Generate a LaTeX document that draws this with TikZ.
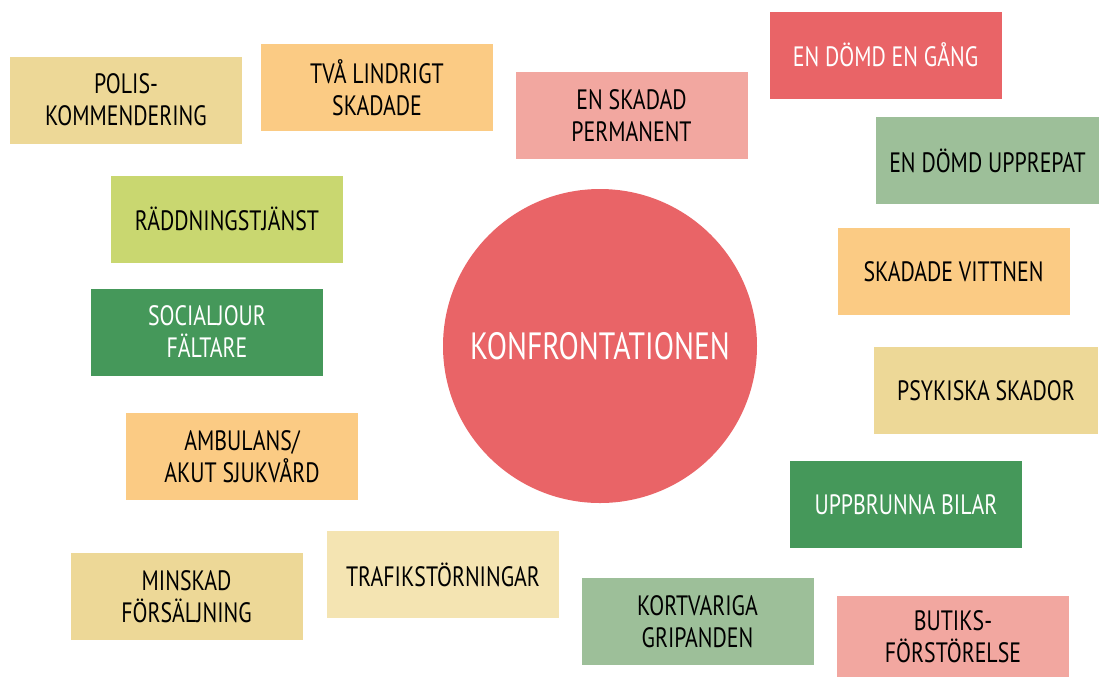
\documentclass[tikz,border=0pt]{standalone}
\usepackage{fontspec}
\setmainfont{PT Sans}[FakeStretch=0.78]

\definecolor{tan}{HTML}{EDD897}
\definecolor{apricot}{HTML}{FBCB84}
\definecolor{rose}{HTML}{F2A7A0}
\definecolor{coral}{HTML}{E96467}
\definecolor{sage}{HTML}{9DBF99}
\definecolor{lime}{HTML}{C9D770}
\definecolor{leaf}{HTML}{45985A}
\definecolor{cream}{HTML}{F4E4B2}

\tikzset{
  card/.style={rectangle, minimum width=116pt, minimum height=43.5pt,
    inner sep=0pt, align=center, font=\fontsize{14}{16}\selectfont},
  darkcard/.style={card, text=white}
}

\begin{document}
\begin{tikzpicture}[x=0.5pt, y=-0.5pt]
    \useasboundingbox (0,0) rectangle (1099,677);

    % the middle
    \node (konfr) at (600,346) [circle, fill=coral, minimum size=157pt,
      text=white, font=\fontsize{19}{22}\selectfont] {KONFRONTATIONEN};

    % left side
    \node (polis) at (126,100) [card, fill=tan] {POLIS-\\KOMMENDERING};
    \node (tvaskad) at (377,87.5) [card, fill=apricot] {TVÅ LINDRIGT\\SKADADE};
    \node (raddn) at (227,219) [card, fill=lime] {RÄDDNINGSTJÄNST};
    \node (social) at (207,332) [darkcard, fill=leaf] {SOCIALJOUR\\FÄLTARE};
    \node (ambul) at (242,456.5) [card, fill=apricot] {AMBULANS/\\AKUT SJUKVÅRD};
    \node (minsk) at (186.5,596.5) [card, fill=tan] {MINSKAD\\FÖRSÄLJNING};
    \node (trafik) at (443,574.5) [card, fill=cream] {TRAFIKSTÖRNINGAR};

    % right side
    \node (permskad) at (631.5,115.5) [card, fill=rose] {EN SKADAD\\PERMANENT};
    \node (domdett) at (885.5,55) [darkcard, fill=coral] {EN DÖMD EN GÅNG};
    \node (domdupp) at (987.5,160.5) [card, fill=sage, minimum width=111.5pt]
      {EN DÖMD UPPREPAT};
    \node (vittnen) at (953.5,271.5) [card, fill=apricot] {SKADADE VITTNEN};
    \node (psyk) at (986,390.5) [card, fill=tan, minimum width=112pt]
      {PSYKISKA SKADOR};
    \node (bilar) at (906,504.5) [darkcard, fill=leaf] {UPPBRUNNA BILAR};
    \node (kortv) at (697.5,621.5) [card, fill=sage] {KORTVARIGA\\GRIPANDEN};
    \node (butik) at (953,636.5) [card, fill=rose, minimum height=40.5pt]
      {BUTIKS-\\FÖRSTÖRELSE};
  \end{tikzpicture}
\end{document}
